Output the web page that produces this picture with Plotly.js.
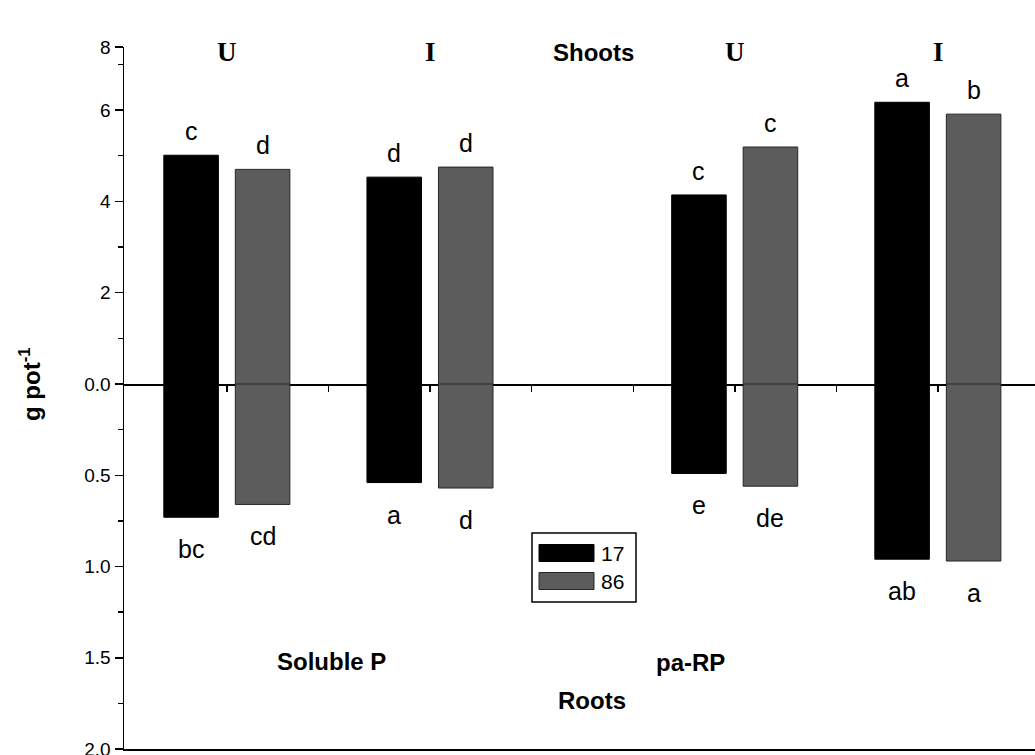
<!DOCTYPE html>
<html><head><meta charset="utf-8">
<script src="https://cdn.plot.ly/plotly-3.0.1.min.js"></script>
<style>html,body{margin:0;padding:0;background:#fff}#chart{width:1035px;height:755px}</style>
</head><body><div id="chart"></div>
<script>
// ---------------- data ----------------
const phosphorusSource = ['Soluble P', 'Soluble P', 'pa-RP', 'pa-RP'];
const inoculation = ['U', 'I', 'U', 'I'];
const seriesNames = ['17', '86'];
const shoots17 = [5.01, 4.53, 4.14, 6.17];
const shoots86 = [4.70, 4.75, 5.19, 5.91];
const roots17 = [0.73, 0.54, 0.49, 0.96];
const roots86 = [0.66, 0.57, 0.56, 0.97];
const shootLetters17 = ['c', 'd', 'c', 'a'];
const shootLetters86 = ['d', 'd', 'c', 'b'];
const rootLetters17 = ['bc', 'a', 'e', 'ab'];
const rootLetters86 = ['cd', 'd', 'de', 'a'];
const shootTickText = ['0.0', '2', '4', '6', '8'];
const rootTickVals = [0.5, 1, 1.5, 2];
const rootTickText = ['0.5', '1.0', '1.5', '2.0'];
const panelLabels = ['Shoots', 'Roots'];

// ---------------- layout constants ----------------
const W = 1035, H = 755;
const M = {l: 124, r: 0, t: 47, b: 6};
const plotW = W - M.l - M.r, plotH = H - M.t - M.b;
const zeroPx = 384;
const split = (H - M.b - zeroPx) / plotH;
const SHOOT_TOP = 7.38;
const X_RANGE = [-1.014, 7.955];
const SLOTS = [0, 2, 5, 7];
const N_SLOTS = 8;
const BAR_W = 0.537;
const OFF = [-0.622, 0.082];
const px2x = p => (p - M.l) / plotW;
const py2y = p => (H - M.b - p) / plotH;

const FONT = 'Liberation Sans, Arial, Helvetica, sans-serif';
const SERIF = 'Liberation Serif, Times New Roman, serif';
const COLORS = ['#000000', '#5c5c5c'];
const EDGES = ['#000000', '#262626'];

const groupKeys = phosphorusSource.map((p, i) => p + ' ' + inoculation[i]);
const categoryarray = Array.from({length: N_SLOTS}, (_, k) =>
  SLOTS.includes(k) ? groupKeys[SLOTS.indexOf(k)] : ' '.repeat(k + 1));

const shoots = [shoots17, shoots86];
const roots = [roots17, roots86];
const shootLetters = [shootLetters17, shootLetters86];
const rootLetters = [rootLetters17, rootLetters86];

const traces = [];
for (let s = 0; s < 2; s++) {
  traces.push({type: 'bar', name: seriesNames[s], x: groupKeys, y: shoots[s], xaxis: 'x', yaxis: 'y',
    offset: OFF[s], width: BAR_W, marker: {color: COLORS[s], line: {color: EDGES[s], width: 1}},
    showlegend: false, hoverinfo: 'x+y+name'});
  traces.push({type: 'bar', name: seriesNames[s], x: groupKeys, y: roots[s], xaxis: 'x', yaxis: 'y2',
    offset: OFF[s], width: BAR_W, marker: {color: COLORS[s], line: {color: EDGES[s], width: 1}},
    showlegend: false, hoverinfo: 'x+y+name'});
}

const annotations = [];
for (let s = 0; s < 2; s++) {
  for (let i = 0; i < groupKeys.length; i++) {
    const xc = SLOTS[i] + OFF[s] + BAR_W / 2;
    annotations.push({xref: 'x2', yref: 'y', x: xc, y: shoots[s][i], text: shootLetters[s][i],
      showarrow: false, yanchor: 'bottom', yshift: 8, font: {family: FONT, size: 25, color: '#000'}});
    annotations.push({xref: 'x2', yref: 'y2', x: xc, y: roots[s][i], text: rootLetters[s][i],
      showarrow: false, yanchor: 'top', yshift: -16, font: {family: FONT, size: 25, color: '#000'}});
  }
}
for (let i = 0; i < groupKeys.length; i++) {
  annotations.push({xref: 'x2', yref: 'paper', x: SLOTS[i], y: 1, yshift: -5, yanchor: 'middle',
    text: '<b>' + inoculation[i] + '</b>', showarrow: false, font: {family: SERIF, size: 27, color: '#000'}});
}
const bold = (t, x, y) => ({xref: 'paper', yref: 'paper', x: px2x(x), y: py2y(y), text: '<b>' + t + '</b>',
  showarrow: false, xanchor: 'center', yanchor: 'middle', font: {family: FONT, size: 24, color: '#000'}});
annotations.push(bold(panelLabels[0], 593, 52));
annotations.push(bold(panelLabels[1], 592, 700));
const uniqueSources = [...new Set(phosphorusSource)];
annotations.push(bold(uniqueSources[0], 331, 661));
annotations.push(bold(uniqueSources[1], 690, 662));
annotations.push({xref: 'paper', yref: 'paper', x: px2x(30), y: py2y(384), textangle: -90,
  text: '<b>g pot<sup>-1</sup></b>', showarrow: false, xanchor: 'center', yanchor: 'middle',
  font: {family: FONT, size: 24, color: '#000'}});

// custom legend
const shapes = [];
shapes.push({type: 'rect', xref: 'paper', yref: 'paper', x0: px2x(532), x1: px2x(636), y0: py2y(602), y1: py2y(533),
  line: {color: '#000', width: 1.5}, fillcolor: '#fff'});
const legRows = [553, 581];
for (let s = 0; s < 2; s++) {
  shapes.push({type: 'rect', xref: 'paper', yref: 'paper', x0: px2x(539), x1: px2x(594),
    y0: py2y(legRows[s] + 8.5), y1: py2y(legRows[s] - 8.5), line: {color: EDGES[s], width: 1}, fillcolor: COLORS[s]});
  annotations.push({xref: 'paper', yref: 'paper', x: px2x(599), y: py2y(legRows[s]), xanchor: 'left', yanchor: 'middle',
    text: seriesNames[s], showarrow: false, font: {family: FONT, size: 21, color: '#000'}});
}

const axisCommon = {showgrid: false, zeroline: false, linecolor: '#000', linewidth: 1.5, tickcolor: '#000', tickwidth: 1.5,
  tickfont: {family: FONT, size: 19, color: '#000'}, fixedrange: true, ticklabeloverflow: 'allow'};
const slotTicks = Array.from({length: N_SLOTS}, (_, k) => k);

const layout = {
  width: W, height: H, margin: M, paper_bgcolor: '#fff', plot_bgcolor: '#fff',
  showlegend: false, barmode: 'overlay',
  xaxis: Object.assign({}, axisCommon, {type: 'category', categoryorder: 'array', categoryarray: categoryarray,
    range: X_RANGE, anchor: 'y2', showline: true, ticks: '', showticklabels: false}),
  xaxis2: Object.assign({}, axisCommon, {overlaying: 'x', anchor: 'y', range: X_RANGE, tickvals: slotTicks,
    ticks: 'outside', ticklen: 6, showline: true, showticklabels: false}),
  xaxis3: Object.assign({}, axisCommon, {overlaying: 'x', anchor: 'y2', side: 'top', range: X_RANGE, tickvals: slotTicks,
    ticks: 'outside', ticklen: 6, showline: false, showticklabels: false}),
  yaxis: Object.assign({}, axisCommon, {domain: [split, 1], range: [0, SHOOT_TOP], anchor: 'x',
    tickvals: [0, 2, 4, 6, SHOOT_TOP], ticktext: shootTickText, ticks: 'outside', ticklen: 8, showline: true,
    minor: {tickvals: [1, 3, 5, 7], ticks: 'outside', ticklen: 5, tickcolor: '#000', tickwidth: 1.5}}),
  yaxis2: Object.assign({}, axisCommon, {domain: [0, split], range: [2, 0], anchor: 'x',
    tickvals: rootTickVals, ticktext: rootTickText, ticks: 'outside', ticklen: 8, showline: true,
    minor: {tickvals: [0.25, 0.75, 1.25, 1.75], ticks: 'outside', ticklen: 5, tickcolor: '#000', tickwidth: 1.5}}),
  annotations: annotations, shapes: shapes
};

Plotly.newPlot('chart', traces, layout, {displayModeBar: false, staticPlot: true});
</script>
</body></html>
